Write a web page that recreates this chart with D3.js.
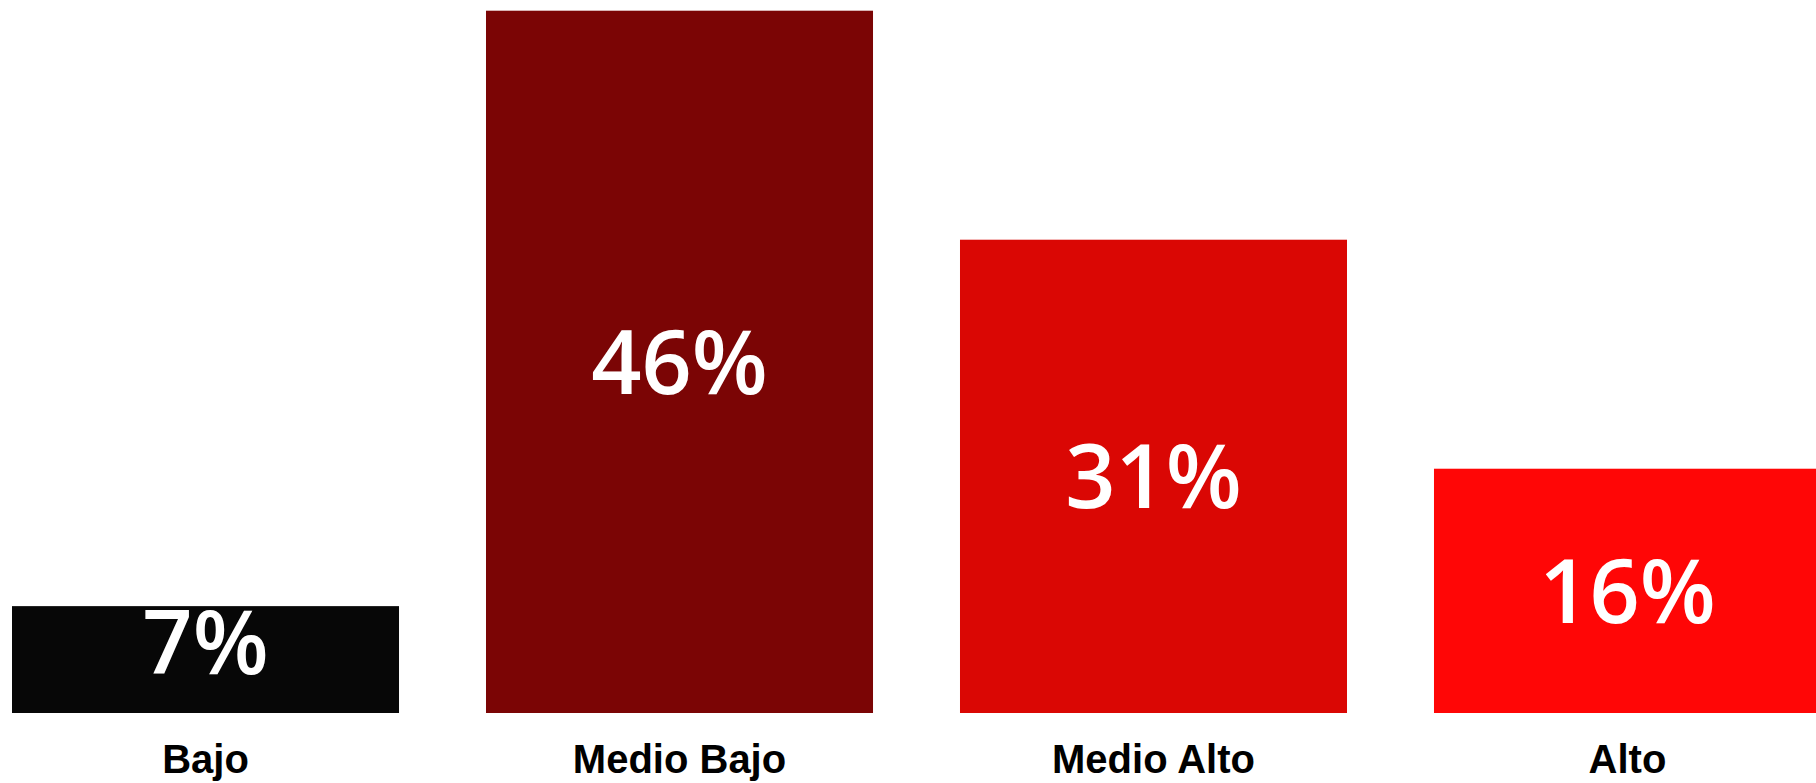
<!DOCTYPE html>
<html>
<head>
<meta charset="utf-8">
<script src="https://cdn.jsdelivr.net/npm/d3@7"></script>
<style>
  html, body { margin: 0; padding: 0; background: #ffffff; }
  svg { display: block; }
</style>
</head>
<body>
<svg id="chart" width="1816" height="783"></svg>
<script>
// Distribución por nivel
const categories = ["Bajo", "Medio Bajo", "Medio Alto", "Alto"];
const values = [7, 46, 31, 16];
const colors = ["#070707", "#7b0505", "#da0704", "#ff0606"];

const svg = d3.select("#chart");

const x = d3.scaleBand()
  .domain(categories)
  .range([12, 1821])
  .paddingInner(0.1835)
  .paddingOuter(0);

const y = d3.scaleLinear()
  .domain([0, d3.max(values)])
  .range([713, 10.7]);

const data = categories.map((c, i) => ({ cat: c, value: values[i], color: colors[i] }));

// bars
svg.append("g")
  .selectAll("rect")
  .data(data)
  .join("rect")
  .attr("x", d => x(d.cat))
  .attr("y", d => y(d.value))
  .attr("width", x.bandwidth())
  .attr("height", d => y(0) - y(d.value))
  .attr("fill", d => d.color);

// value labels: centred in the bar, pinned to the top when the bar is short
svg.append("g")
  .selectAll("text")
  .data(data)
  .join("text")
  .attr("x", d => x(d.cat) + x.bandwidth() / 2)
  .attr("y", d => {
    const top = y(d.value), bottom = y(0);
    return (bottom - top) < 150 ? top + 68 : (top + bottom) / 2 + 32;
  })
  .attr("text-anchor", "middle")
  .attr("fill", "#ffffff")
  .style("font-family", "'Open Sans', sans-serif")
  .style("font-weight", 600)
  .style("font-size", "88px")
  .text(d => d.value + "%");

// category axis
const axis = svg.append("g")
  .attr("transform", `translate(0, ${y(0)})`)
  .call(d3.axisBottom(x).tickSize(0).tickPadding(0));
axis.select(".domain").remove();
axis.selectAll("text")
  .attr("y", 60)
  .attr("dy", 0)
  .attr("fill", "#000000")
  .style("font-family", "'Liberation Sans', Arial, sans-serif")
  .style("font-weight", "bold")
  .style("font-size", "40px");
</script>
</body>
</html>
